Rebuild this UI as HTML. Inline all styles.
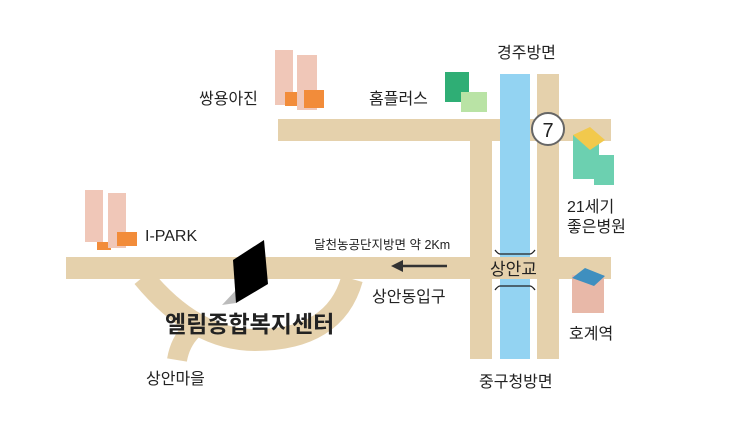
<!DOCTYPE html>
<html><head><meta charset="utf-8"><style>
body{margin:0;background:#fff;}
svg text{font-family:"Liberation Sans","Noto Sans CJK KR",sans-serif;fill:#222;}
</style></head><body>
<svg width="750" height="429" viewBox="0 0 750 429" xmlns="http://www.w3.org/2000/svg">
<g fill="#e5d1ac">
<rect x="278" y="119" width="333" height="22"/>
<rect x="470" y="119" width="22" height="240"/>
<rect x="537" y="74" width="22" height="285"/>
<rect x="66" y="257" width="545" height="22"/>
</g>
<path d="M143 277 Q195 340 255 340 Q335 340 352 279" fill="none" stroke="#e5d1ac" stroke-width="22"/>
<path d="M192 330 Q180 342 177 360" fill="none" stroke="#e5d1ac" stroke-width="20"/>
<rect x="500" y="74" width="30" height="285" fill="#93d3f2"/>
<rect x="492" y="257" width="45" height="22" fill="#e5d1ac"/>
<path d="M495 250 Q498 254 500 254 L530 254 Q532 254 535 250 M495 290 Q498 286 500 286 L530 286 Q532 286 535 290" stroke="#222" stroke-width="1.3" fill="none"/>
<circle cx="548" cy="129" r="16" fill="#fff" stroke="#666" stroke-width="2"/>
<text x="548" y="137" font-size="20" text-anchor="middle" fill="#333">7</text>
<polygon points="236,303 222,305 236,290" fill="#bbb"/>
<polygon points="233,260 264,240 268,284 236,303" fill="#000"/>
<line x1="400" y1="266" x2="447" y2="266" stroke="#333" stroke-width="2.5"/>
<polygon points="391,266 403,260 403,272" fill="#333"/>
<g>
<rect x="85" y="190" width="18" height="52" fill="#f0c7b8"/><rect x="97" y="242" width="14" height="8" fill="#f28c3a"/>
<rect x="108" y="193" width="18" height="55" fill="#f0c7b8"/><rect x="117" y="232" width="20" height="14" fill="#f28c3a"/>
<rect x="275" y="50" width="18" height="55" fill="#f0c7b8"/><rect x="285" y="92" width="12" height="14" fill="#f28c3a"/>
<rect x="297" y="55" width="20" height="55" fill="#f0c7b8"/><rect x="304" y="90" width="20" height="18" fill="#f28c3a"/>
</g>
<rect x="445" y="72" width="24" height="30" fill="#2fae75"/>
<rect x="461" y="92" width="26" height="20" fill="#b9e3a5"/>
<rect x="573" y="135" width="26" height="44" fill="#6cd0b0"/>
<polygon points="573,135 590,127 605,140 590,150" fill="#f2c94c"/>
<rect x="594" y="155" width="20" height="30" fill="#6cd0b0"/>
<rect x="572" y="275" width="32" height="38" fill="#e8b8a8"/>
<polygon points="572,278 585,268 605,276 594,286" fill="#3f8fbf"/>
<g font-size="16">
<text x="199" y="104">쌍용아진</text>
<text x="369" y="104">홈플러스</text>
<text x="497" y="58">경주방면</text>
<text x="567" y="212">21세기</text>
<text x="567" y="232">좋은병원</text>
<text x="145" y="241">I-PARK</text>
<text x="372" y="302">상안동입구</text>
<text x="569" y="339">호계역</text>
<text x="146" y="384">상안마을</text>
<text x="479" y="387">중구청방면</text>
</g>
<text x="314" y="249" font-size="12.5">달천농공단지방면 약 2Km</text>
<text x="490" y="275" font-size="17">상안교</text>
<text x="165" y="332" font-size="23" font-weight="bold" fill="#000">엘림종합복지센터</text>
</svg>
</body></html>
